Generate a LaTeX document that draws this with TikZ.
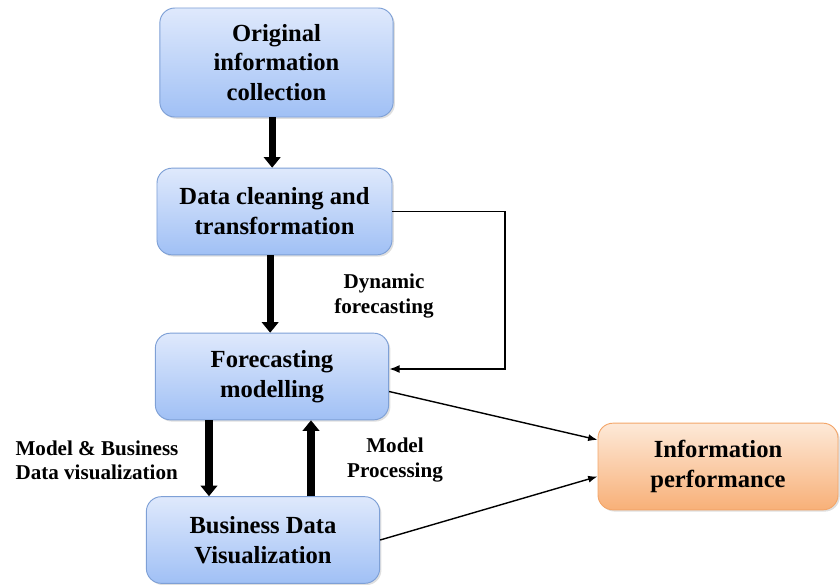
\documentclass[tikz,border=0pt]{standalone}
\usepackage{fontspec}
\setmainfont{Liberation Serif}
\usetikzlibrary{arrows.meta,shadows}
\definecolor{boxtop}{RGB}{223,233,252}
\definecolor{boxbottom}{RGB}{160,192,245}
\definecolor{boxline}{RGB}{126,160,214}
\definecolor{infotop}{RGB}{253,233,216}
\definecolor{infobottom}{RGB}{248,176,120}
\definecolor{infoline}{RGB}{243,166,106}
\begin{document}
\begin{tikzpicture}[x=0.03cm,y=-0.03cm,
    bluebox/.style={draw=boxline,line width=0.8pt,rounded corners=0.45cm,
        top color=boxtop,bottom color=boxbottom,align=center,
        minimum width=7cm,minimum height=2.6cm,
        font=\fontsize{21}{25.5}\selectfont\bfseries,
        drop shadow={opacity=0.25,shadow xshift=1.5pt,shadow yshift=-1.5pt}},
    orangebox/.style={bluebox,draw=infoline,top color=infotop,bottom color=infobottom},
    tag/.style={align=center,font=\fontsize{18}{20.5}\selectfont\bfseries},
    bigarrow/.style={line width=6pt,-{Triangle[width=14pt,length=9pt]}},
    thinarrow/.style={line width=1.2pt,-{Latex[length=8pt,width=6pt]}}]
    \useasboundingbox (0,0) rectangle (840,584);
    \node[bluebox,minimum height=3.27cm] (og) at (276.5,62.5) {Original\\information\\collection};
    \node[bluebox,minimum width=7.05cm] (dc) at (274.5,211.5) {Data cleaning and\\transformation};
    \node[bluebox] (fc) at (272,376.5) {Forecasting\\modelling};
    \node[bluebox] (bdv) at (263,540) {Business Data\\Visualization};
    \node[orangebox,minimum width=7.2cm] (info) at (718,466.5) {Information\\performance};

    \node[tag] (dyn) at (384,296) {Dynamic\\forecasting};
    \node[tag,align=left] (mbd) at (97,460) {Model \& Business\\Data visualization};
    \node[tag] (mp) at (395,460) {Model\\Processing};

    \draw[bigarrow] ([xshift=-0.13cm]og.south) -- ([xshift=-0.13cm]og.south |- dc.north);
    \draw[bigarrow] ([xshift=-0.13cm]dc.south) -- ([xshift=-0.13cm]dc.south |- fc.north);
    \draw[bigarrow] ([xshift=-1.89cm]fc.south) -- ([xshift=-1.89cm]fc.south |- bdv.north);
    \draw[bigarrow] ([xshift=1.17cm]fc.south |- bdv.north) -- ([xshift=1.17cm]fc.south);

    \coordinate (turn) at (505,369);
    \draw[line width=1.6pt,-{Latex[length=9pt,width=7pt]}] (dc.east) -| (turn) -- (turn -| fc.east);
    \draw[thinarrow] ([yshift=-0.45cm]fc.east) -- ([yshift=0.8cm]info.west);
    \draw[thinarrow] (bdv.east) -- ([yshift=-0.3cm]info.west);
\end{tikzpicture}
\end{document}
